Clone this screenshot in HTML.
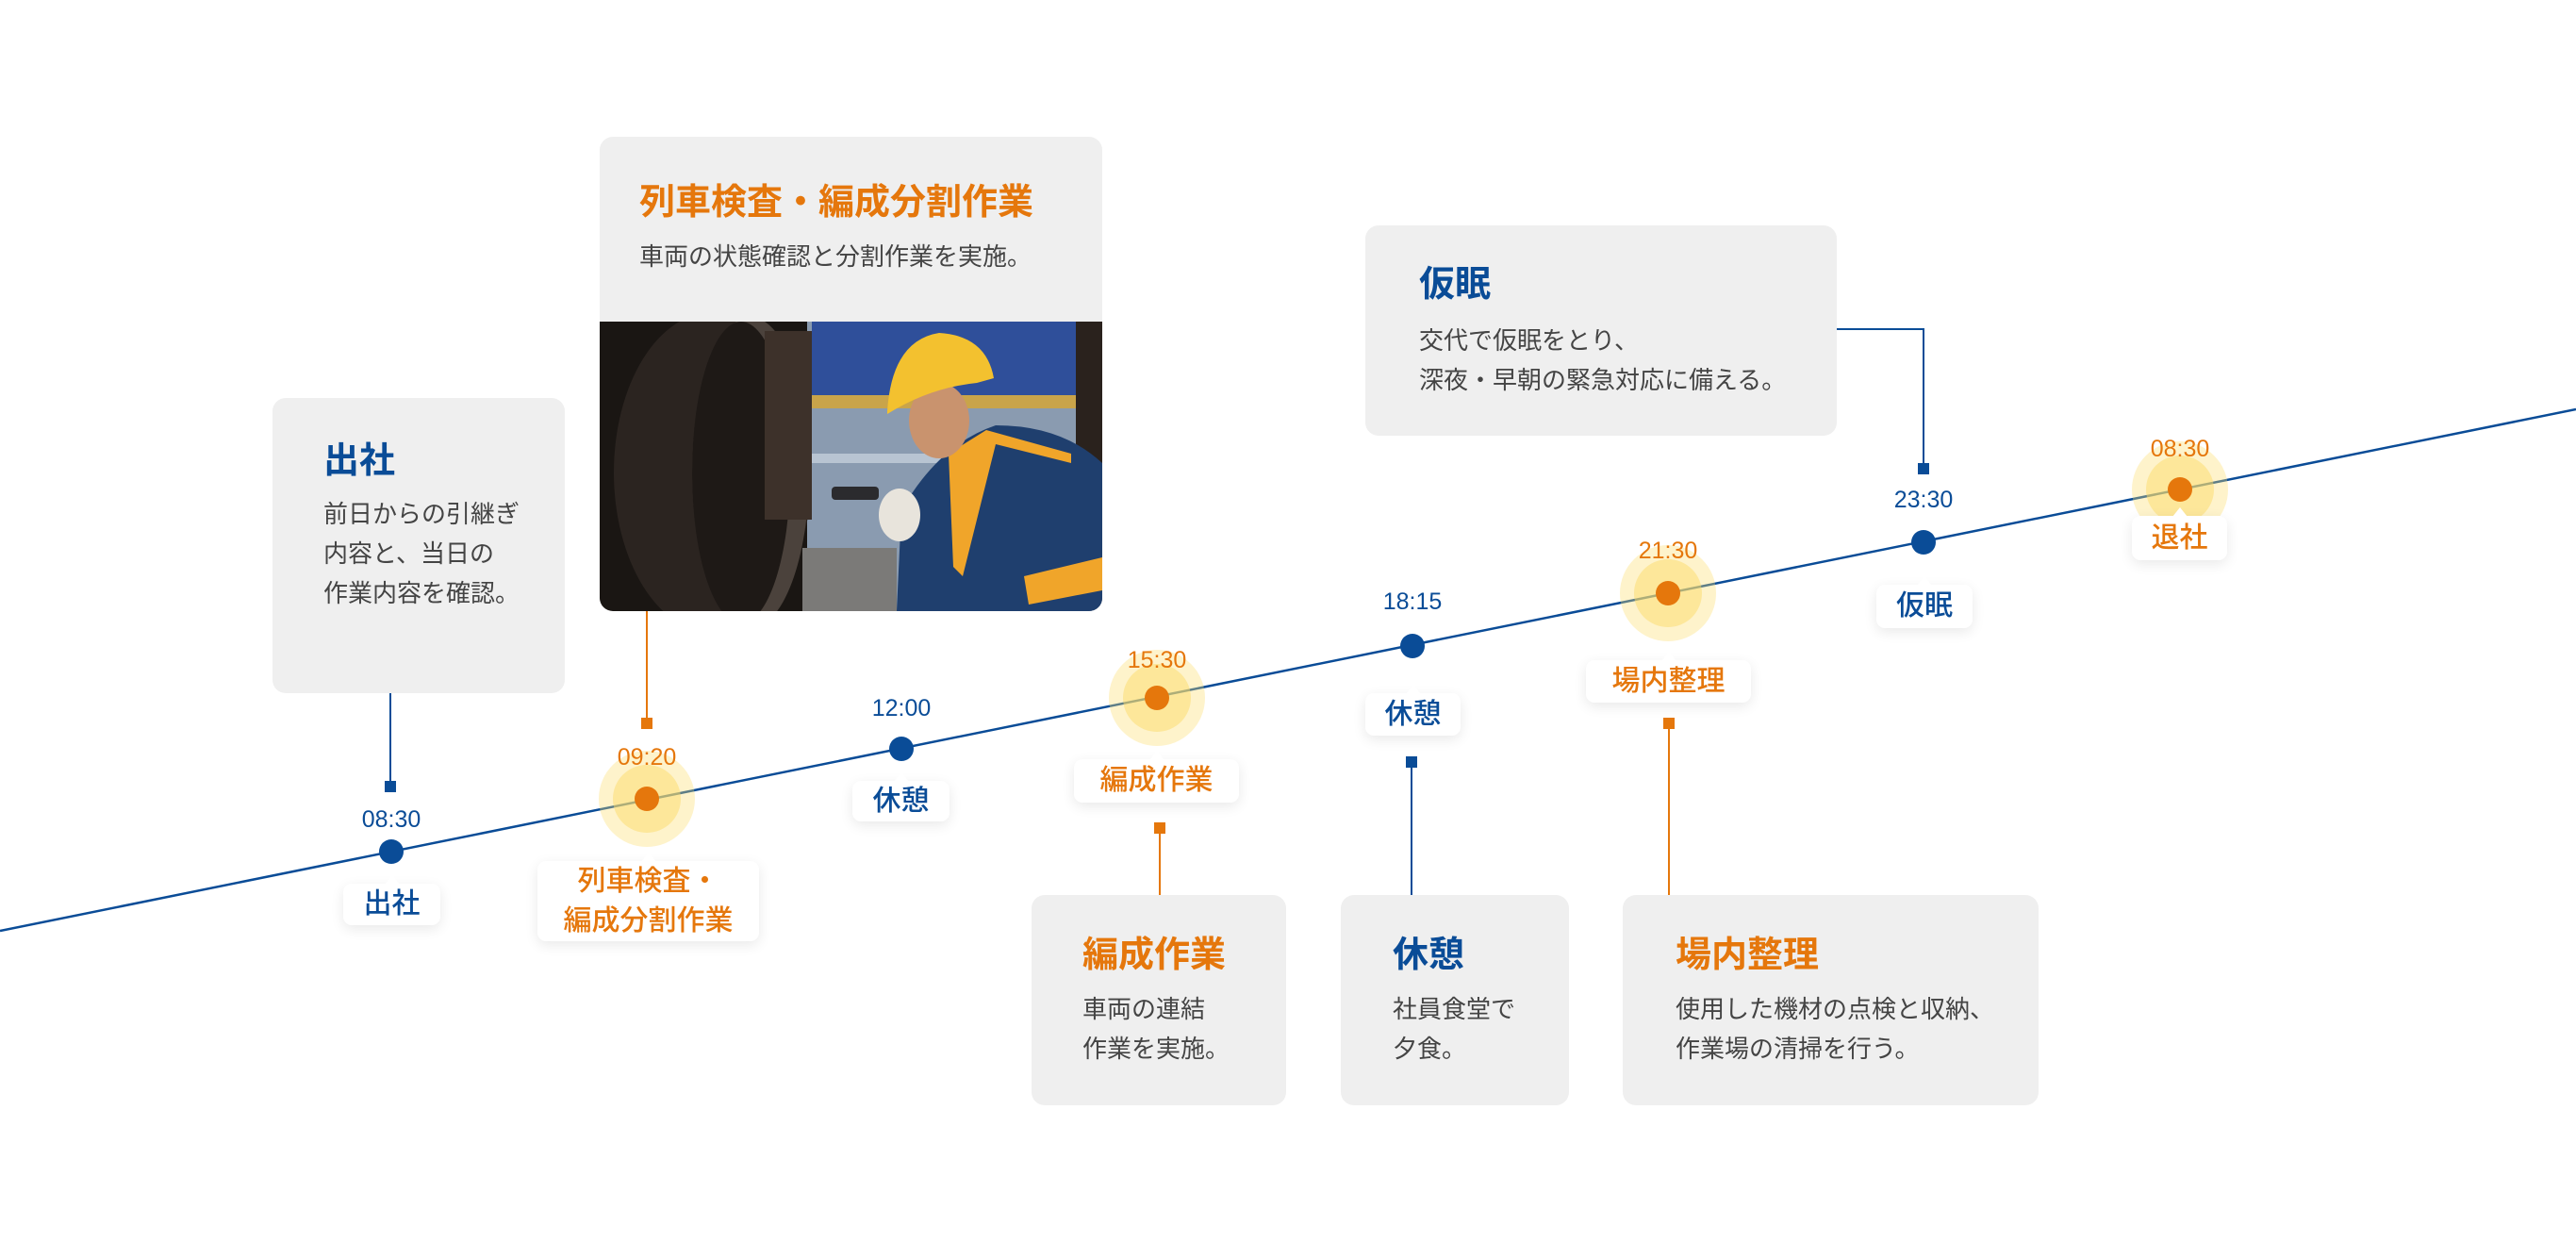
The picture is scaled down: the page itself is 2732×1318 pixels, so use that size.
<!DOCTYPE html>
<html><head><meta charset="utf-8">
<style>
*{margin:0;padding:0;box-sizing:border-box}
body{width:2732px;height:1318px;background:#fff;position:relative;overflow:hidden;font-family:"Liberation Sans","Noto Sans CJK JP",sans-serif}
.box{position:absolute;background:#efefef;border-radius:14px}
.t{position:absolute;font-weight:700;font-size:38px;line-height:42px;white-space:nowrap}
.d{position:absolute;font-size:26px;line-height:42px;color:#444;white-space:nowrap}
.b{color:#0a4c97}.o{color:#e5770c}
.tm{position:absolute;font-size:25px;font-weight:500;width:120px;text-align:center;line-height:28px}
.pill{position:absolute;background:#fff;border-radius:9px;box-shadow:0 4px 14px rgba(0,0,0,.09);font-size:30px;font-weight:500;text-align:center;display:flex;align-items:center;justify-content:center;line-height:42px}
.pill:before{content:"";position:absolute;top:-9px;left:50%;margin-left:-8px;border-left:8px solid transparent;border-right:8px solid transparent;border-bottom:10px solid #fff}
svg{position:absolute;left:0;top:0}
</style></head><body>

<svg width="2732" height="1318">
<line x1="0" y1="987" x2="2732" y2="434" stroke="#0a4c97" stroke-width="2.5"/>
<g stroke="#0a4c97" stroke-width="2" fill="none">
<line x1="414" y1="735" x2="414" y2="834"/>
<line x1="1497" y1="808" x2="1497" y2="949"/>
<polyline points="1948,349 2040,349 2040,497"/>
</g>
<g stroke="#e5770c" stroke-width="2" fill="none">
<line x1="686" y1="648" x2="686" y2="767"/>
<line x1="1230" y1="878" x2="1230" y2="949"/>
<line x1="1770" y1="767" x2="1770" y2="949"/>
</g>
<g fill="#0a4c97">
<rect x="408" y="828" width="12" height="12"/>
<rect x="1491" y="802" width="12" height="12"/>
<rect x="2034" y="491" width="12" height="12"/>
<circle cx="415" cy="903" r="13"/>
<circle cx="956" cy="794" r="13"/>
<circle cx="1498" cy="685" r="13"/>
<circle cx="2040" cy="575" r="13"/>
</g>
<g fill="#e5770c">
<rect x="680" y="761" width="12" height="12"/>
<rect x="1224" y="872" width="12" height="12"/>
<rect x="1764" y="761" width="12" height="12"/>
</g>
<g>
<g fill="#fcdc6a" opacity=".35"><circle cx="686" cy="847" r="51"/><circle cx="1227" cy="740" r="51"/><circle cx="1769" cy="629" r="51"/><circle cx="2312" cy="519" r="51"/></g>
<g fill="#fcdc6a" opacity=".5"><circle cx="686" cy="847" r="36"/><circle cx="1227" cy="740" r="36"/><circle cx="1769" cy="629" r="36"/><circle cx="2312" cy="519" r="36"/></g>
<g fill="#e5770c"><circle cx="686" cy="847" r="13"/><circle cx="1227" cy="740" r="13"/><circle cx="1769" cy="629" r="13"/><circle cx="2312" cy="519" r="13"/></g>
</g>
</svg>

<div class="box" style="left:289px;top:422px;width:310px;height:313px"></div>
<div class="t b" style="left:343px;top:468px">出社</div>
<div class="d" style="left:343px;top:524px">前日からの引継ぎ<br>内容と、当日の<br>作業内容を確認。</div>

<div class="box" style="left:636px;top:145px;width:533px;height:503px;overflow:hidden">
<svg width="533" height="307" style="top:196px" viewBox="0 0 533 307">
<rect width="533" height="307" fill="#1a1613"/>
<rect x="220" y="0" width="313" height="307" fill="#8a9bb0"/>
<rect x="225" y="0" width="280" height="80" fill="#2f4f9a"/>
<rect x="225" y="78" width="280" height="14" fill="#c9a44a"/>
<rect x="225" y="140" width="180" height="10" fill="#b8c4d2"/>
<rect x="215" y="240" width="100" height="67" fill="#7b7a78"/>
<rect x="505" y="0" width="28" height="220" fill="#2a221d"/>
<ellipse cx="120" cy="160" rx="105" ry="170" fill="#2b2420"/>
<ellipse cx="160" cy="160" rx="62" ry="165" fill="#4b423c"/>
<ellipse cx="150" cy="160" rx="52" ry="160" fill="#1e1916"/>
<rect x="175" y="10" width="50" height="200" fill="#3d312a"/>
<path d="M315 307 L320 200 Q360 130 420 110 Q490 110 533 150 L533 307Z" fill="#1f3f6e"/>
<path d="M370 140 L410 115 L500 140 L500 150 L420 130 L385 270 L375 260Z" fill="#f0a52a"/>
<path d="M450 270 L533 250 L533 285 L455 300Z" fill="#f0a52a"/>
<ellipse cx="360" cy="105" rx="32" ry="40" fill="#c9936e"/>
<path d="M305 95 Q310 20 360 12 Q410 15 418 60 L400 65 Q350 70 305 98Z" fill="#f3c12f"/>
<ellipse cx="318" cy="205" rx="22" ry="28" fill="#e8e4dc"/>
<rect x="246" y="175" width="50" height="14" rx="4" fill="#2b2b2e"/>
</svg>
</div>
<div class="t o" style="left:678px;top:194px">列車検査・編成分割作業</div>
<div class="d" style="left:678px;top:251px">車両の状態確認と分割作業を実施。</div>

<div class="box" style="left:1448px;top:239px;width:500px;height:223px"></div>
<div class="t b" style="left:1505px;top:281px">仮眠</div>
<div class="d" style="left:1505px;top:340px">交代で仮眠をとり、<br>深夜・早朝の緊急対応に備える。</div>

<div class="box" style="left:1094px;top:949px;width:270px;height:223px"></div>
<div class="t o" style="left:1148px;top:992px">編成作業</div>
<div class="d" style="left:1148px;top:1049px">車両の連結<br>作業を実施。</div>

<div class="box" style="left:1422px;top:949px;width:242px;height:223px"></div>
<div class="t b" style="left:1477px;top:992px">休憩</div>
<div class="d" style="left:1477px;top:1049px">社員食堂で<br>夕食。</div>

<div class="box" style="left:1721px;top:949px;width:441px;height:223px"></div>
<div class="t o" style="left:1777px;top:992px">場内整理</div>
<div class="d" style="left:1777px;top:1049px">使用した機材の点検と収納、<br>作業場の清掃を行う。</div>

<div class="tm b" style="left:355px;top:855px">08:30</div>
<div class="tm o" style="left:626px;top:789px">09:20</div>
<div class="tm b" style="left:896px;top:737px">12:00</div>
<div class="tm o" style="left:1167px;top:686px">15:30</div>
<div class="tm b" style="left:1438px;top:624px">18:15</div>
<div class="tm o" style="left:1709px;top:570px">21:30</div>
<div class="tm b" style="left:1980px;top:516px">23:30</div>
<div class="tm o" style="left:2252px;top:462px">08:30</div>

<div class="pill b" style="left:364px;top:937px;width:103px;height:44px">出社</div>
<div class="pill o" style="left:570px;top:913px;width:235px;height:85px">列車検査・<br>編成分割作業</div>
<div class="pill b" style="left:904px;top:828px;width:103px;height:43px">休憩</div>
<div class="pill o" style="left:1139px;top:805px;width:175px;height:46px">編成作業</div>
<div class="pill b" style="left:1448px;top:735px;width:101px;height:45px">休憩</div>
<div class="pill o" style="left:1682px;top:700px;width:175px;height:45px">場内整理</div>
<div class="pill b" style="left:1990px;top:620px;width:102px;height:46px">仮眠</div>
<div class="pill o" style="left:2261px;top:547px;width:101px;height:47px">退社</div>
</body></html>
